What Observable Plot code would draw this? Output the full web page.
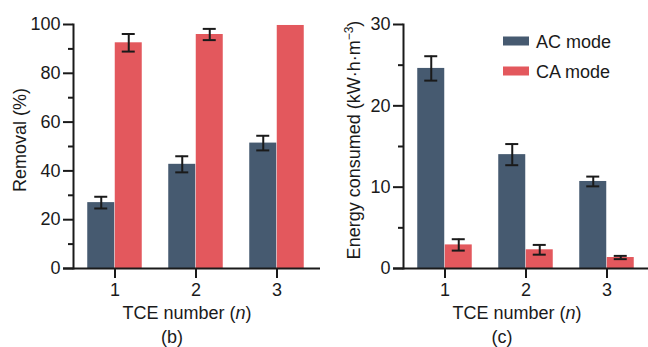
<!DOCTYPE html>
<html><head><meta charset="utf-8">
<script src="https://cdn.jsdelivr.net/npm/d3@7"></script>
<script src="https://cdn.jsdelivr.net/npm/@observablehq/plot@0.6"></script>
<style>
body{margin:0;background:#fff;}
#wrap{position:relative;width:648px;height:347px;overflow:hidden;}
.panel{position:absolute;top:0;}
</style>
</head><body><div id="wrap"></div>
<script>
const tceNumbers = [1, 2, 3];
const modes = ["AC mode", "CA mode"];
const modeColors = ["#465a70", "#e3585d"];
const removalAC = [27.0, 42.7, 51.4];
const removalACErr = [2.4, 3.3, 3.0];
const removalCA = [92.5, 95.9, 99.6];
const removalCAErr = [3.6, 2.3, 0];
const energyAC = [24.6, 14.0, 10.7];
const energyACErr = [1.5, 1.3, 0.6];
const energyCA = [2.9, 2.3, 1.35];
const energyCAErr = [0.7, 0.6, 0.2];
const removalTicks = [0, 20, 40, 60, 80, 100];
const removalMinorTicks = [10, 30, 50, 70, 90];
const energyTicks = [0, 10, 20, 30];
const energyMinorTicks = [5, 15, 25];

const FONT = "'Liberation Sans', Arial, Helvetica, sans-serif";
const INK = "#1a1a1a";

function makePanel(o) {
  const rows = tceNumbers.flatMap((n, i) => [
    {n, mode: modes[0], v: o.ac[i], e: o.acErr[i]},
    {n, mode: modes[1], v: o.ca[i], e: o.caErr[i]}
  ]);
  const offsets = [-13.75, 13.75];
  const marks = [];
  modes.forEach((m, k) => {
    const sub = rows.filter(d => d.mode === m);
    const err = sub.filter(d => d.e > 0);
    marks.push(Plot.barY(sub, {x: "n", y: "v", fill: "mode", dx: offsets[k]}));
    marks.push(Plot.ruleX(err, {x: "n", y1: d => d.v - d.e, y2: d => d.v + d.e, dx: offsets[k], stroke: INK, strokeWidth: 2}));
    marks.push(Plot.tickY(err, {x: "n", y: d => d.v + d.e, dx: offsets[k], insetLeft: 7, insetRight: 7, stroke: INK, strokeWidth: 2}));
    marks.push(Plot.tickY(err, {x: "n", y: d => d.v - d.e, dx: offsets[k], insetLeft: 7, insetRight: 7, stroke: INK, strokeWidth: 2}));
  });
  marks.push(Plot.axisY({ticks: o.ticks, tickSize: 10, tickPadding: 3, strokeWidth: 2, label: null, fill: INK, stroke: INK}));
  marks.push(Plot.axisY({ticks: o.minor, tickSize: 5, tickFormat: () => "", strokeWidth: 2, label: null, stroke: INK}));
  marks.push(Plot.axisX({tickSize: 10, tickPadding: 5, strokeWidth: 2, label: null, fill: INK, stroke: INK}));
  marks.push(Plot.frame({anchor: "left", stroke: INK, strokeWidth: 2}));
  marks.push(Plot.ruleY([0], {stroke: INK, strokeWidth: 2, insetLeft: -10, insetRight: -2}));

  const svg = Plot.plot({
    width: o.width, height: 347,
    marginLeft: 73, marginRight: o.width - 73 - 245, marginTop: 24, marginBottom: 79,
    style: {fontFamily: FONT, fontSize: "18px", color: INK, background: "white", overflow: "visible"},
    x: {type: "band", domain: tceNumbers, paddingInner: 0.665, paddingOuter: 0.33, align: 0.5, axis: null},
    y: {domain: [0, o.yMax], axis: null},
    color: {domain: modes, range: modeColors},
    marks
  });
  const s = d3.select(svg);
  const txt = (x, y) => s.append("text").attr("x", x).attr("y", y).attr("font-family", FONT).attr("font-size", 18).attr("fill", INK);
  // x label
  const xl = txt(187, 319).attr("text-anchor", "middle");
  xl.append("tspan").text("TCE number (");
  xl.append("tspan").attr("font-style", "italic").text("n");
  xl.append("tspan").text(")");
  // caption
  txt(172, 343).attr("text-anchor", "middle").text(o.caption);
  // y label
  const yl = s.append("text").attr("transform", `translate(${o.ylx},${o.yly}) rotate(-90)`)
    .attr("text-anchor", "middle").attr("font-family", FONT).attr("font-size", 18).attr("fill", INK);
  o.ylabel(yl);
  if (o.legend) {
    modes.forEach((m, k) => {
      s.append("rect").attr("x", 173).attr("y", 36.5 + 30 * k).attr("width", 26).attr("height", 9).attr("fill", modeColors[k]);
      txt(206, 48 + 30 * k).attr("text-anchor", "start").text(m);
    });
  }
  const div = document.createElement("div");
  div.className = "panel";
  div.style.left = o.left + "px";
  div.appendChild(svg);
  document.getElementById("wrap").appendChild(div);
}

makePanel({
  ac: removalAC, acErr: removalACErr, ca: removalCA, caErr: removalCAErr,
  yMax: 100, ticks: removalTicks, minor: removalMinorTicks,
  left: 0, width: 330, caption: "(b)", ylx: 26, yly: 140,
  ylabel: t => t.text("Removal (%)")
});
makePanel({
  ac: energyAC, acErr: energyACErr, ca: energyCA, caErr: energyCAErr,
  yMax: 30, ticks: energyTicks, minor: energyMinorTicks,
  left: 330, width: 318, caption: "(c)", ylx: 30, yly: 140, legend: true,
  ylabel: t => {
    t.append("tspan").text("Energy consumed (kW·h·m");
    t.append("tspan").attr("dy", -7).attr("font-size", 12).text("−3");
    t.append("tspan").attr("dy", 7).text(")");
  }
});
</script>
</body></html>
